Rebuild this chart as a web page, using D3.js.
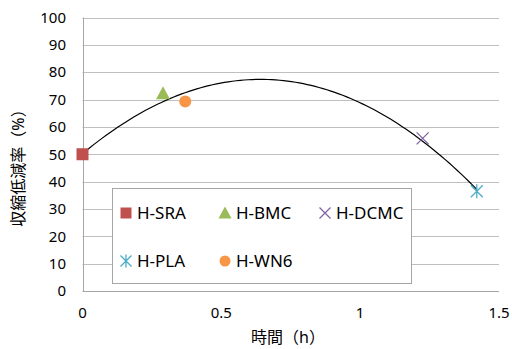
<!DOCTYPE html>
<html>
<head>
<meta charset="utf-8">
<script src="https://cdn.jsdelivr.net/npm/d3@7"></script>
<style>
  body { margin: 0; background: #fff; }
  text { font-family: "Noto Sans", "Noto Sans CJK JP", sans-serif; fill: #000; }
</style>
</head>
<body>
<svg id="svg" width="512" height="349"></svg>
<script>
// data
const seriesNames = ["H-SRA", "H-BMC", "H-DCMC", "H-PLA", "H-WN6"];
const timeValues = [0, 0.29, 1.225, 1.42, 0.37];
const reductionValues = [50, 72.3, 55.8, 36.5, 69.3];
const seriesColors = ["#c0504d", "#9bbb59", "#8064a2", "#4bacc6", "#f79646"];
const xTicks = [0, 0.5, 1, 1.5];
const yTicks = [0, 10, 20, 30, 40, 50, 60, 70, 80, 90, 100];

const svg = d3.select("#svg");
const x = d3.scaleLinear().domain([0, 1.5]).range([82.5, 499]);
const y = d3.scaleLinear().domain([0, 100]).range([291, 17.5]);

// grid
svg.selectAll("line.grid")
  .data(yTicks)
  .enter()
  .append("line")
  .attr("x1", x(0)).attr("x2", x(1.5))
  .attr("y1", d => Math.round(y(d)) + 0.5)
  .attr("y2", d => Math.round(y(d)) + 0.5)
  .attr("stroke", d => d === 0 ? "#a6a6a6" : "#bfbfbf")
  .attr("stroke-width", 1);

svg.append("line")
  .attr("x1", Math.round(x(0)) + 0.5).attr("x2", Math.round(x(0)) + 0.5)
  .attr("y1", y(100)).attr("y2", y(0))
  .attr("stroke", "#a6a6a6");

// tick labels
svg.selectAll("text.ytick")
  .data(yTicks)
  .enter()
  .append("text")
  .attr("x", 66)
  .attr("y", d => y(d))
  .attr("dy", "0.35em")
  .attr("text-anchor", "end")
  .attr("font-size", 15)
  .text(d => d);

svg.selectAll("text.xtick")
  .data(xTicks)
  .enter()
  .append("text")
  .attr("x", d => x(d))
  .attr("y", 318)
  .attr("text-anchor", "middle")
  .attr("font-size", 15)
  .text(d => d);

// axis titles
svg.append("text")
  .attr("x", 288).attr("y", 343)
  .attr("text-anchor", "middle")
  .attr("font-size", 16)
  .text("時間（h）");

svg.append("text")
  .attr("transform", "translate(24,164) rotate(-90)")
  .attr("text-anchor", "middle")
  .attr("font-size", 16)
  .text("収縮低減率（%）");

// polynomial (order 2) trend line, least squares fit of the points
function fitQuadratic(xs, ys) {
  let s = [0, 0, 0, 0, 0], t = [0, 0, 0];
  xs.forEach((xv, i) => {
    for (let k = 0; k < 5; k++) s[k] += Math.pow(xv, k);
    for (let k = 0; k < 3; k++) t[k] += ys[i] * Math.pow(xv, k);
  });
  const A = [[s[0], s[1], s[2], t[0]], [s[1], s[2], s[3], t[1]], [s[2], s[3], s[4], t[2]]];
  for (let i = 0; i < 3; i++) {
    for (let j = i + 1; j < 3; j++) {
      const f = A[j][i] / A[i][i];
      for (let k = i; k < 4; k++) A[j][k] -= f * A[i][k];
    }
  }
  const c = [0, 0, 0];
  for (let i = 2; i >= 0; i--) {
    let v = A[i][3];
    for (let k = i + 1; k < 3; k++) v -= A[i][k] * c[k];
    c[i] = v / A[i][i];
  }
  return c;
}
const coef = fitQuadratic(timeValues, reductionValues);
const xMax = d3.max(timeValues);
const trend = d3.range(0, 101).map(i => {
  const t = xMax * i / 100;
  return [t, coef[0] + coef[1] * t + coef[2] * t * t];
});
svg.append("path")
  .datum(trend)
  .attr("d", d3.line().x(d => x(d[0])).y(d => y(d[1])))
  .attr("fill", "none")
  .attr("stroke", "#000")
  .attr("stroke-width", 1.2);

// markers
function drawMarker(g, i, size) {
  const c = seriesColors[i];
  const h = size / 2;
  if (i === 0) {
    g.append("rect").attr("x", -h).attr("y", -h).attr("width", size).attr("height", size).attr("fill", c);
  } else if (i === 1) {
    g.append("path").attr("d", `M0,${-h - 1}L${h + 1},${h}L${-h - 1},${h}Z`).attr("fill", c);
  } else if (i === 2) {
    g.append("path").attr("d", `M${-h},${-h}L${h},${h}M${-h},${h}L${h},${-h}`).attr("stroke", c).attr("stroke-width", 1.3);
  } else if (i === 3) {
    g.append("path").attr("d", `M${-h},${-h}L${h},${h}M${-h},${h}L${h},${-h}M0,${-h - 1}L0,${h + 1}`).attr("stroke", c).attr("stroke-width", 1.3);
  } else {
    g.append("circle").attr("r", h).attr("fill", c);
  }
}

seriesNames.forEach((name, i) => {
  const g = svg.append("g").attr("transform", `translate(${x(timeValues[i])},${y(reductionValues[i])})`);
  drawMarker(g, i, 12);
});

// legend
const legend = svg.append("g");
legend.append("rect")
  .attr("x", 112.5).attr("y", 188.5)
  .attr("width", 299).attr("height", 95)
  .attr("fill", "#fff")
  .attr("stroke", "#a6a6a6");

const legendPos = [[126, 213], [225, 213], [325, 213], [126, 261], [225, 261]];
seriesNames.forEach((name, i) => {
  const g = legend.append("g").attr("transform", `translate(${legendPos[i][0]},${legendPos[i][1]})`);
  drawMarker(g, i, 11);
  g.append("text")
    .attr("x", 11)
    .attr("dy", "0.35em")
    .attr("font-size", 17)
    .text(name);
});
</script>
</body>
</html>
